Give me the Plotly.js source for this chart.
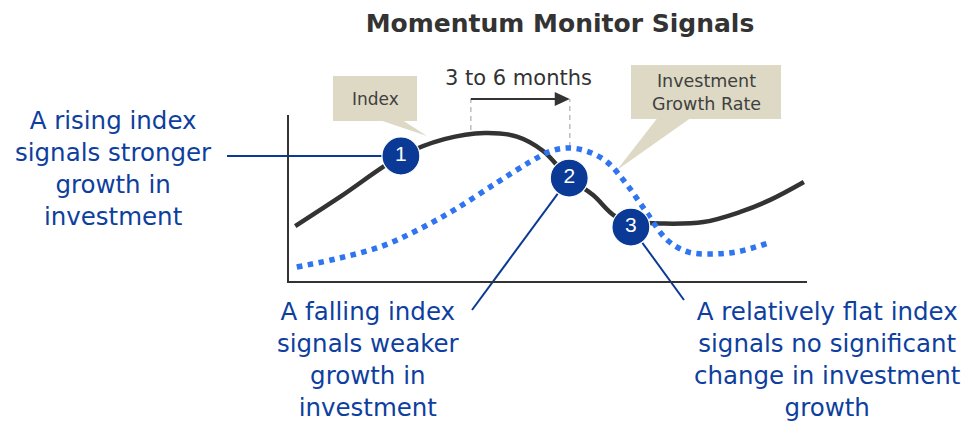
<!DOCTYPE html>
<html><head><meta charset="utf-8">
<script src="https://cdn.plot.ly/plotly-3.0.1.min.js"></script>
<style>html,body{margin:0;padding:0;background:#fff}#chart{width:970px;height:421px}</style>
</head><body><div id="chart"></div>
<script>
// Index (solid black) curve, schematic units 0..100
const indexX = [1.2, 10, 21.6, 30, 37.8, 44, 49, 54.1, 58.7, 63, 67, 72, 80, 87, 93, 99.4];
const indexY = [33.1, 51, 75.3, 85.5, 89.2, 87.0, 78.5, 62.0, 51.8, 39.0, 35.5, 34.6, 35.5, 41.5, 49.0, 59.6];
// Investment growth rate (dotted blue) curve
const growthX = [1.5, 10, 18, 25, 32, 40, 46.5, 50.5, 53.9, 57.5, 61.4, 65.3, 69.1, 73, 77, 82, 87, 92.5];
const growthY = [8.4, 14.0, 21.0, 31.0, 43.0, 59.0, 71.7, 78.2, 80.1, 78.2, 71.7, 57.8, 41.0, 24.7, 17.5, 16.3, 17.9, 22.9];
// Numbered signal points
const signalX = [21.6, 54.1, 66.0];
const signalY = [75.3, 62.0, 32.5];
const signalLabels = ['1', '2', '3'];
// Lead window: index peak -> growth peak
const leadWindow = [35.1, 54.2];
const leadCurveY = [91.0, 80.7];
const leadLabel = '3 to 6 months';
const calloutLabels = ['Index', 'Investment<br>Growth Rate'];
const signalTexts = [
  'A rising index<br>signals stronger<br>growth in<br>investment',
  'A falling index<br>signals weaker<br>growth in<br>investment',
  'A relatively flat index<br>signals no significant<br>change in investment<br>growth'
];
const titleText = 'Momentum Monitor Signals';

const W = 970, H = 421;
const M = {l: 289, r: 163, t: 115, b: 140};
const PW = W - M.l - M.r, PH = H - M.t - M.b;
const X0 = 0, X1 = 100, Y0 = 0, Y1 = 100;
const dx = v => (v - X0) / (X1 - X0);
const dy = v => (v - Y0) / (Y1 - Y0);
const px = p => (p - M.l) / PW;
const py = p => (H - M.b - p) / PH;

const BEIGE = '#ddd9c4';
const NAVY = '#0b3a96';
const TXTBLUE = '#0e3f9e';
const FONT = 'DejaVu Sans, Verdana, sans-serif';

const shapes = [];
shapes.push({type: 'rect', xref: 'paper', yref: 'paper', x0: px(333), x1: px(417), y0: py(121), y1: py(76), fillcolor: BEIGE, line: {width: 0}, layer: 'below'});
shapes.push({type: 'path', xref: 'paper', yref: 'paper', path: `M ${px(381)},${py(120.5)} L ${px(403)},${py(120.5)} L ${px(427)},${py(136)} Z`, fillcolor: BEIGE, line: {width: 0}, layer: 'below'});
shapes.push({type: 'rect', xref: 'paper', yref: 'paper', x0: px(631), x1: px(781), y0: py(119), y1: py(65), fillcolor: BEIGE, line: {width: 0}, layer: 'below'});
shapes.push({type: 'path', xref: 'paper', yref: 'paper', path: `M ${px(657)},${py(118.5)} L ${px(690)},${py(118.5)} L ${px(617)},${py(170)} Z`, fillcolor: BEIGE, line: {width: 0}, layer: 'below'});
for (let i = 0; i < 2; i++) {
  shapes.push({type: 'line', xref: 'paper', yref: 'paper', x0: dx(leadWindow[i]), x1: dx(leadWindow[i]), y0: dy(leadCurveY[i]), y1: py(99), line: {color: '#bdbdbd', width: 1.5, dash: '5px,4px'}, layer: 'below'});
}
const headL = 15 / PW, headH = 7 / PH;
const ax1 = dx(leadWindow[1]), ayv = py(99);
shapes.push({type: 'line', xref: 'paper', yref: 'paper', x0: dx(leadWindow[0]), x1: ax1 - headL + 0.002, y0: ayv, y1: ayv, line: {color: '#333', width: 2}, layer: 'above'});
shapes.push({type: 'path', xref: 'paper', yref: 'paper', path: `M ${ax1 - headL},${ayv - headH} L ${ax1},${ayv} L ${ax1 - headL},${ayv + headH} Z`, fillcolor: '#333', line: {width: 0}, layer: 'above'});
shapes.push({type: 'line', xref: 'paper', yref: 'paper', x0: px(227), x1: dx(signalX[0]), y0: dy(signalY[0]), y1: dy(signalY[0]), line: {color: NAVY, width: 2}, layer: 'below'});
shapes.push({type: 'line', xref: 'paper', yref: 'paper', x0: dx(signalX[1]), x1: px(472), y0: dy(signalY[1]), y1: py(310), line: {color: NAVY, width: 2}, layer: 'below'});
shapes.push({type: 'line', xref: 'paper', yref: 'paper', x0: dx(signalX[2]), x1: px(684), y0: dy(signalY[2]), y1: py(300), line: {color: NAVY, width: 2}, layer: 'below'});

const annotations = [
  {text: leadLabel, xref: 'paper', yref: 'paper', x: px(518), y: py(78), xanchor: 'center', yanchor: 'middle', showarrow: false, font: {family: FONT, size: 21, color: '#333'}},
  {text: calloutLabels[0], xref: 'paper', yref: 'paper', x: px(375), y: py(99), xanchor: 'center', yanchor: 'middle', showarrow: false, font: {family: FONT, size: 17, color: '#404040'}},
  {text: calloutLabels[1], xref: 'paper', yref: 'paper', x: px(706), y: py(93), xanchor: 'center', yanchor: 'middle', showarrow: false, font: {family: FONT, size: 17.5, color: '#404040'}},
  {text: signalTexts[0], xref: 'paper', yref: 'paper', x: px(113), y: py(168), xanchor: 'center', yanchor: 'middle', showarrow: false, font: {family: FONT, size: 24.5, color: TXTBLUE}},
  {text: signalTexts[1], xref: 'paper', yref: 'paper', x: px(368), y: py(359), xanchor: 'center', yanchor: 'middle', showarrow: false, font: {family: FONT, size: 24.5, color: TXTBLUE}},
  {text: signalTexts[2], xref: 'paper', yref: 'paper', x: px(827), y: py(359), xanchor: 'center', yanchor: 'middle', showarrow: false, font: {family: FONT, size: 24.5, color: TXTBLUE}}
];

const traces = [
  {x: indexX, y: indexY, type: 'scatter', mode: 'lines', line: {color: '#333333', width: 4.5, shape: 'spline', smoothing: 1}, hoverinfo: 'skip'},
  {x: growthX, y: growthY, type: 'scatter', mode: 'lines', line: {color: '#2f74f0', width: 5.5, dash: '5.5px,5.5px', shape: 'spline', smoothing: 1}, hoverinfo: 'skip'},
  {x: signalX, y: signalY, type: 'scatter', mode: 'markers+text', text: signalLabels, textposition: 'middle center',
   textfont: {family: 'Liberation Sans, Arial, sans-serif', size: 21, color: '#ffffff'},
   marker: {size: 38, color: NAVY, line: {color: '#ffffff', width: 1.2}}, cliponaxis: false, hoverinfo: 'skip'}
];

const axisBase = {showline: true, linecolor: '#333', linewidth: 2, showgrid: false, zeroline: false, showticklabels: false, ticks: '', fixedrange: true};

const layout = {
  width: W, height: H,
  margin: M,
  paper_bgcolor: '#ffffff', plot_bgcolor: 'rgba(0,0,0,0)',
  showlegend: false,
  title: {text: '<b>' + titleText + '</b>', x: 560 / W, y: 1 - 23 / H, xanchor: 'center', yanchor: 'middle', xref: 'container', yref: 'container',
          font: {family: FONT, size: 25, color: '#333333'}},
  xaxis: Object.assign({range: [X0, X1]}, axisBase),
  yaxis: Object.assign({range: [Y0, Y1]}, axisBase),
  shapes: shapes,
  annotations: annotations
};

Plotly.newPlot('chart', traces, layout, {displayModeBar: false, staticPlot: true});
</script>
</body></html>
